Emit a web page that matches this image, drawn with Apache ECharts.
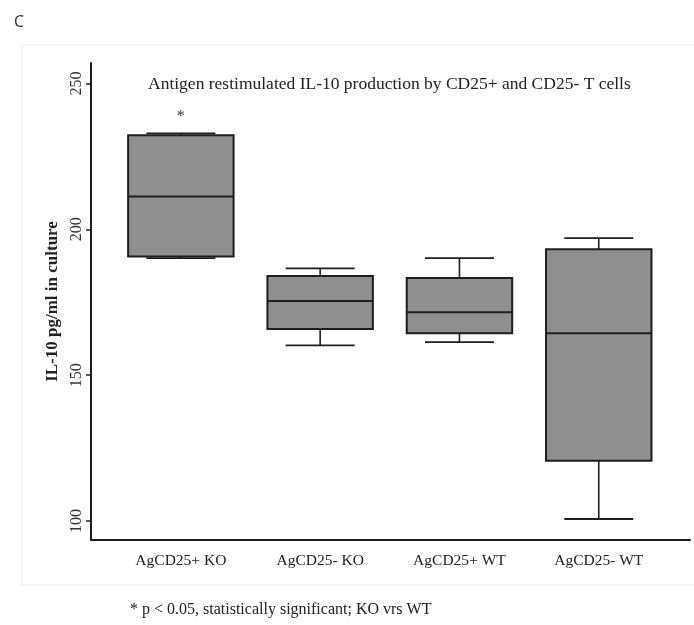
<!DOCTYPE html>
<html><head><meta charset="utf-8">
<script src="https://cdn.jsdelivr.net/npm/echarts@6/dist/echarts.min.js"></script>
<style>html,body{margin:0;padding:0;background:#fff}#c{width:694px;height:625px}</style>
</head><body><div id="c"></div>
<script>
// ---- data ----
const categories = ['AgCD25+ KO', 'AgCD25- KO', 'AgCD25+ WT', 'AgCD25- WT'];
const whiskerLow = [190.1, 160.2, 161.3, 100.7];
const q1 = [190.7, 165.8, 164.4, 120.7];
const median = [211.2, 175.4, 171.6, 164.4];
const q3 = [232.2, 184.0, 183.3, 193.2];
const whiskerHigh = [232.9, 186.6, 190.1, 197.0];
const significance = ['*', '', '', ''];
const yTicks = [100, 150, 200, 250];
const xPositions = [1, 2, 3, 4];

const serif = '"Liberation Serif", "DejaVu Serif", serif';
const ink = '#1e1e1e';

const seriesData = categories.map((c, i) => [xPositions[i], whiskerLow[i], q1[i], median[i], q3[i], whiskerHigh[i]]);

function renderItem(params, api) {
  const x = api.value(0);
  const band = api.size([1, 0])[0];
  const bw = band * 0.757, cw = band * 0.495;
  const pLo = api.coord([x, api.value(1)]);
  const pQ1 = api.coord([x, api.value(2)]);
  const pMed = api.coord([x, api.value(3)]);
  const pQ3 = api.coord([x, api.value(4)]);
  const pHi = api.coord([x, api.value(5)]);
  const cx = pMed[0];
  const children = [
    {type: 'rect', shape: {x: cx - bw / 2, y: pQ3[1], width: bw, height: pQ1[1] - pQ3[1]},
     style: {fill: '#8f8f8f', stroke: ink, lineWidth: 2}},
    {type: 'line', shape: {x1: cx - bw / 2, y1: pMed[1], x2: cx + bw / 2, y2: pMed[1]}, style: {stroke: ink, lineWidth: 2}},
    {type: 'line', shape: {x1: cx, y1: pHi[1], x2: cx, y2: pQ3[1]}, style: {stroke: ink, lineWidth: 1.6}},
    {type: 'line', shape: {x1: cx, y1: pQ1[1], x2: cx, y2: pLo[1]}, style: {stroke: ink, lineWidth: 1.6}},
    {type: 'line', shape: {x1: cx - cw / 2, y1: pHi[1], x2: cx + cw / 2, y2: pHi[1]}, style: {stroke: ink, lineWidth: 1.8}},
    {type: 'line', shape: {x1: cx - cw / 2, y1: pLo[1], x2: cx + cw / 2, y2: pLo[1]}, style: {stroke: ink, lineWidth: 1.8}}
  ];
  const sig = significance[params.dataIndex];
  if (sig) {
    children.push({type: 'text', x: cx, y: pHi[1] - 25,
      style: {text: sig, fill: '#333', font: '16px ' + serif, align: 'center', verticalAlign: 'top'}});
  }
  return {type: 'group', children};
}

const chart = echarts.init(document.getElementById('c'), null, {renderer: 'canvas'});
chart.setOption({
  animation: false,
  backgroundColor: '#fff',
  title: [
    {text: 'C', left: 9, top: 9, textStyle: {fontFamily: '"Open Sans", "Noto Sans", sans-serif', fontWeight: 'normal', fontSize: 16, color: '#333'}},
    {text: 'Antigen restimulated IL-10 production by CD25+ and CD25- T cells', left: 143, top: 70,
     textStyle: {fontFamily: serif, fontWeight: 'normal', fontSize: 17.5, color: '#222'}},
    {text: '* p < 0.05, statistically significant; KO vrs WT', left: 125, top: 597,
     textStyle: {fontFamily: serif, fontWeight: 'normal', fontSize: 16, color: '#222'}}
  ],
  graphic: [
    {type: 'rect', shape: {x: 22, y: 45, width: 700, height: 540}, silent: true,
     style: {fill: 'none', stroke: '#eef2f2', lineWidth: 1.5}}
  ],
  grid: {left: 91, right: 4, top: 63, bottom: 85},
  xAxis: {
    type: 'value', min: 0.355, max: 4.655,
    axisLine: {show: true, lineStyle: {color: ink, width: 2}},
    axisTick: {show: false},
    splitLine: {show: false},
    axisLabel: {customValues: xPositions, formatter: v => categories[Math.round(v) - 1],
      fontFamily: serif, fontSize: 15.5, color: '#222', margin: 13}
  },
  yAxis: {
    type: 'value', min: 93.5, max: 257,
    axisLine: {show: true, lineStyle: {color: ink, width: 2}},
    axisTick: {show: true, length: 5, customValues: yTicks, lineStyle: {color: ink, width: 1.5}},
    splitLine: {show: false},
    axisLabel: {customValues: yTicks, rotate: 90, fontFamily: serif, fontSize: 16, color: '#333', margin: 6},
    name: 'IL-10 pg/ml in culture', nameLocation: 'middle', nameGap: 29,
    nameTextStyle: {fontFamily: serif, fontWeight: 'bold', fontSize: 17, color: '#222'}
  },
  series: [{
    type: 'custom', renderItem: renderItem, data: seriesData,
    encode: {x: 0, y: [1, 2, 3, 4, 5]}, clip: false
  }]
});
</script></body></html>
